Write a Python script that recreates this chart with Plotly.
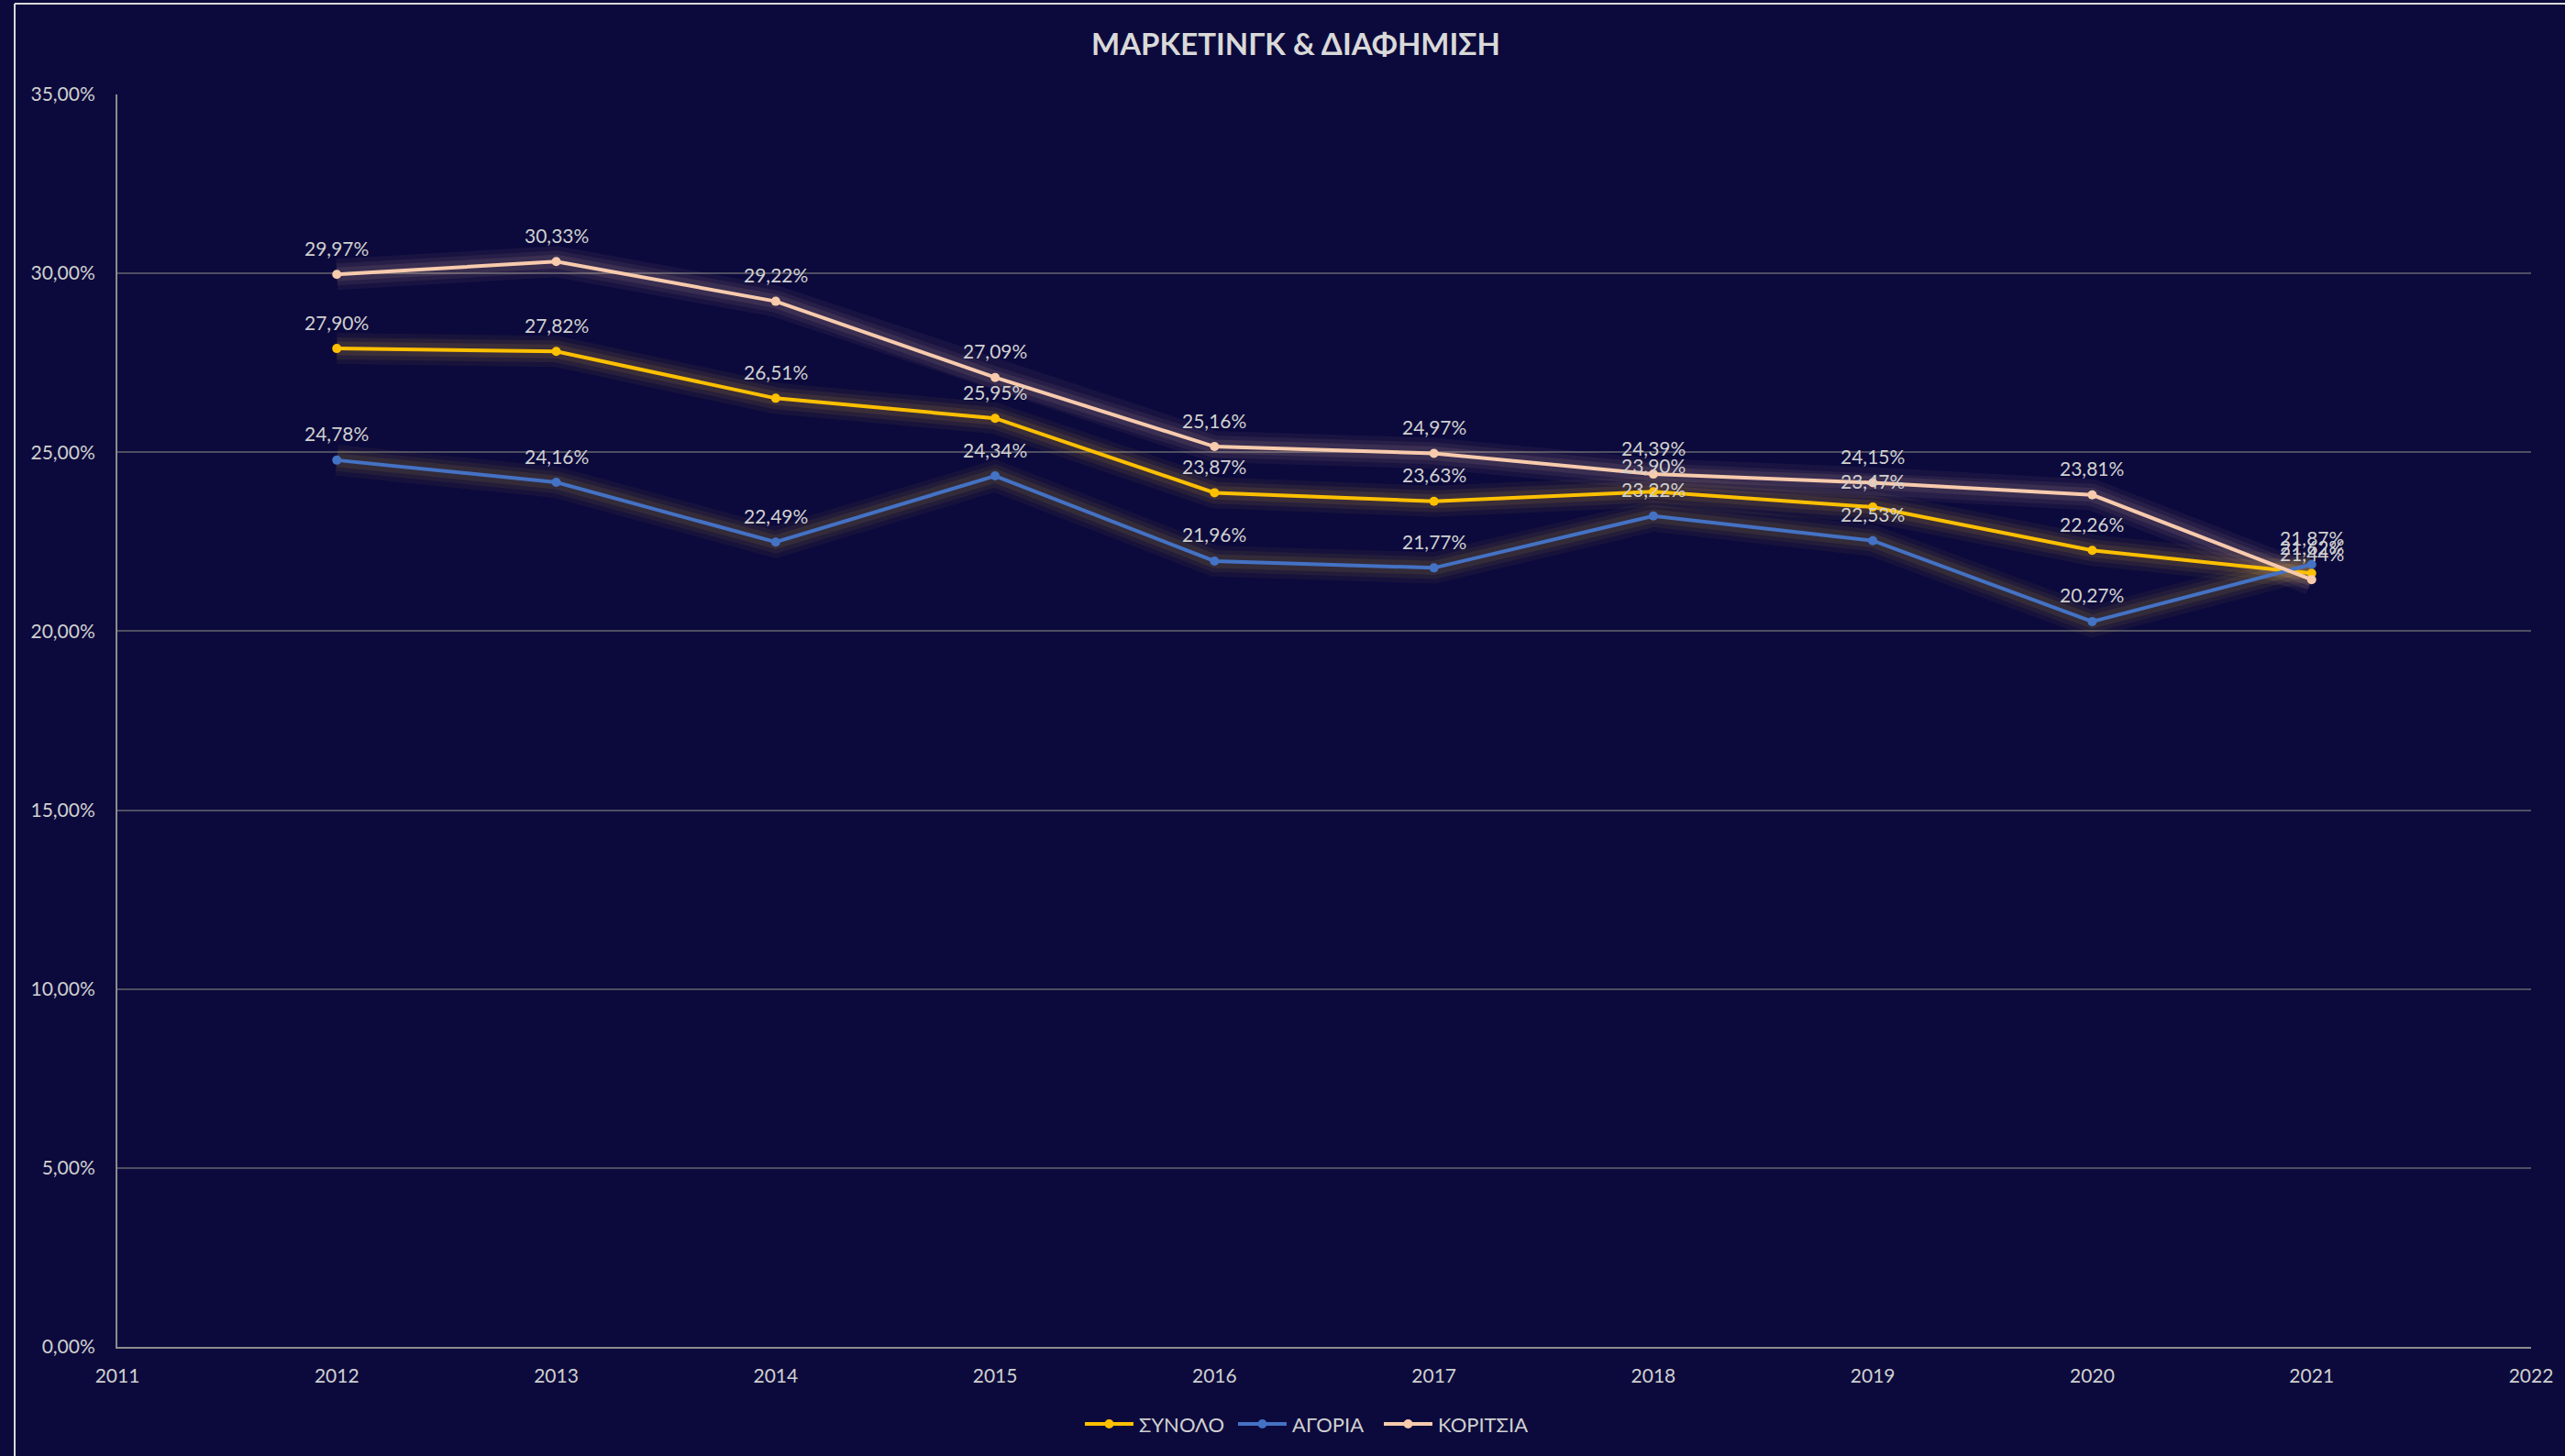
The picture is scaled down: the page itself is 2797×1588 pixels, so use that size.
import plotly.graph_objects as go

years = [2012, 2013, 2014, 2015, 2016, 2017, 2018, 2019, 2020, 2021]
synolo = [27.90, 27.82, 26.51, 25.95, 23.87, 23.63, 23.90, 23.47, 22.26, 21.62]
agoria = [24.78, 24.16, 22.49, 24.34, 21.96, 21.77, 23.22, 22.53, 20.27, 21.87]
koritsia = [29.97, 30.33, 29.22, 27.09, 25.16, 24.97, 24.39, 24.15, 23.81, 21.44]

series = [
    ("ΣΥΝΟΛΟ", synolo, "#FFC000", (255, 200, 50)),
    ("ΑΓΟΡΙΑ", agoria, "#4472C4", (225, 185, 60)),
    ("ΚΟΡΙΤΣΙΑ", koritsia, "#F8CBAD", (248, 203, 173)),
]

BG = "#0C0A3C"
TEXT = "#D0D0D0"
FONT = "Lato, 'Open Sans', sans-serif"

W, H = 2797, 1588
ML, MR, MT, MB = 128, 37, 103, 119
PW, PH = W - ML - MR, H - MT - MB


def px_x(px):
    return (px - ML) / PW


def px_y(py):
    return (H - MB - py) / PH


fig = go.Figure()

# soft glow under each line, built from stacked translucent strokes
for name, vals, color, rgb in series:
    frac = [v / 100 for v in vals]
    for w, a in ((34, 0.05), (24, 0.07), (15, 0.09)):
        fig.add_trace(go.Scatter(
            x=years, y=frac, mode="lines",
            line=dict(color=f"rgba({rgb[0]},{rgb[1]},{rgb[2]},{a})", width=w),
            hoverinfo="skip", showlegend=False,
        ))

annotations = []
for name, vals, color, rgb in series:
    frac = [v / 100 for v in vals]
    fig.add_trace(go.Scatter(
        x=years, y=frac, name=name,
        mode="lines+markers",
        line=dict(color=color, width=4),
        marker=dict(color=color, size=10),
        showlegend=False,
    ))
    for yr, v in zip(years, vals):
        annotations.append(dict(
            x=yr, y=v / 100, xref="x", yref="y",
            text=f"{v:.2f}%".replace(".", ","),
            showarrow=False, yshift=29,
            font=dict(color=TEXT, size=21, family=FONT),
        ))

# legend drawn along the bottom
legend_y = px_y(1553)
legend_items = [
    ("ΣΥΝΟΛΟ", "#FFC000", 1183),
    ("ΑΓΟΡΙΑ", "#4472C4", 1350),
    ("ΚΟΡΙΤΣΙΑ", "#F8CBAD", 1509),
]
shapes = []
for label, color, x0 in legend_items:
    shapes.append(dict(type="line", xref="paper", yref="paper",
                       x0=px_x(x0), x1=px_x(x0 + 53), y0=legend_y, y1=legend_y,
                       line=dict(color=color, width=4)))
    cx = x0 + 26.5
    shapes.append(dict(type="circle", xref="paper", yref="paper",
                       x0=px_x(cx - 5), x1=px_x(cx + 5),
                       y0=legend_y - 5 / PH, y1=legend_y + 5 / PH,
                       fillcolor=color, line=dict(width=0)))
    annotations.append(dict(
        x=px_x(x0 + 57), y=legend_y, xref="paper", yref="paper",
        text=label, showarrow=False, xanchor="left", yanchor="middle",
        font=dict(color=TEXT, size=22, family=FONT),
    ))

# chart frame (top and left edges)
shapes += [
    dict(type="line", xref="paper", yref="paper",
         x0=px_x(16), x1=px_x(W), y0=px_y(4), y1=px_y(4),
         line=dict(color="#D9D9D9", width=2)),
    dict(type="line", xref="paper", yref="paper",
         x0=px_x(16), x1=px_x(16), y0=px_y(4), y1=px_y(H),
         line=dict(color="#D9D9D9", width=2)),
]

fig.update_layout(
    width=W, height=H,
    paper_bgcolor=BG, plot_bgcolor=BG,
    margin=dict(l=ML, r=MR, t=MT, b=MB, autoexpand=False),
    separators=",.",
    showlegend=False,
    font=dict(family=FONT, color=TEXT, size=21),
    title=dict(
        text="<b>ΜΑΡΚΕΤΙΝΓΚ & ΔΙΑΦΗΜΙΣΗ</b>",
        x=1413 / W, xanchor="center", y=1 - 48 / H, yanchor="middle",
        font=dict(size=33, color="#D9D9D9", family=FONT),
    ),
    xaxis=dict(
        range=[2011, 2022], dtick=1, tick0=2011,
        showgrid=False, zeroline=False,
        showline=True, linecolor="#8C8C8C", linewidth=2,
        ticks="", ticklabelstandoff=12,
        tickfont=dict(size=21, color=TEXT),
    ),
    yaxis=dict(
        range=[0, 0.35], dtick=0.05, tickformat=".2%",
        showgrid=True, gridcolor="#4E4E62", gridwidth=2,
        zeroline=False,
        showline=True, linecolor="#8C8C8C", linewidth=2,
        ticks="", ticklabelstandoff=18,
        tickfont=dict(size=21, color=TEXT),
    ),
    shapes=shapes,
    annotations=annotations,
)

fig.write_html("out.html")
